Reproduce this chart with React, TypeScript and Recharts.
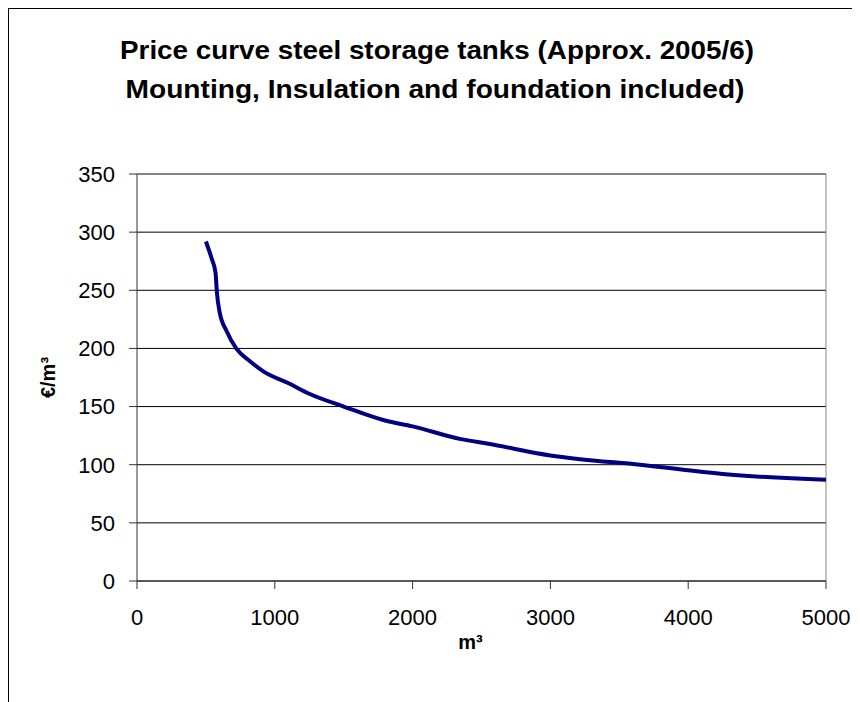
import { CartesianGrid, Label, Line, LineChart, ReferenceLine, XAxis, YAxis } from "recharts";

const volumes = [500, 540, 570, 580, 600, 650, 720, 820, 920, 1100, 1250, 1500, 1800, 2000, 2350, 2550, 3000, 3200, 3650, 4250, 5000];
const prices = [292, 278, 265, 248, 231, 215, 200, 189, 180, 170, 161, 150, 138, 133, 122, 118, 108, 105, 100, 92, 87];

const xTicks = [0, 1000, 2000, 3000, 4000, 5000];
const yTicks = [0, 50, 100, 150, 200, 250, 300, 350];

const titleLines = [
  "Price curve steel storage tanks (Approx. 2005/6)",
  "Mounting, Insulation and foundation included)",
];

const FONT = "'Liberation Sans', Arial, sans-serif";
const AXIS = "#333333";

const data = volumes.map((v, i) => ({ volume: v, price: prices[i] }));

export default function App() {
  return (
    <div
      style={{
        position: "relative",
        width: 848,
        height: 700,
        border: "1px solid #000",
        background: "#fff",
        fontFamily: FONT,
      }}
    >
      <svg width={848} height={110} style={{ position: "absolute", left: 0, top: 0 }}>
        <text x={428} y={50} textAnchor="middle" fontSize={26} fontWeight="bold" fontFamily={FONT} textLength={634} lengthAdjust="spacingAndGlyphs">
          {titleLines[0]}
        </text>
        <text x={426} y={89} textAnchor="middle" fontSize={26} fontWeight="bold" fontFamily={FONT} textLength={619} lengthAdjust="spacingAndGlyphs">
          {titleLines[1]}
        </text>
      </svg>
      <LineChart width={848} height={700} data={data} margin={{ top: 165, right: 31, bottom: 48, left: 68 }}>
        <CartesianGrid stroke="#000" vertical={false} />
        <XAxis
          dataKey="volume"
          type="number"
          domain={[0, 5000]}
          ticks={xTicks}
          height={80}
          tickSize={8}
          tickMargin={20}
          axisLine={{ stroke: AXIS }}
          tickLine={{ stroke: AXIS }}
          tick={{ fill: "#000", fontSize: 22, fontFamily: FONT }}
        >
          <Label value="m³" position="insideBottom" offset={12} dx={-11} fill="#000" fontSize={20} fontWeight="bold" fontFamily={FONT} />
        </XAxis>
        <YAxis
          type="number"
          domain={[0, 350]}
          ticks={yTicks}
          width={60}
          tickSize={8}
          tickMargin={14}
          axisLine={{ stroke: AXIS }}
          tickLine={{ stroke: AXIS }}
          tick={{ fill: "#000", fontSize: 22, fontFamily: FONT }}
        >
          <Label
            value="€/m³"
            angle={-90}
            position="insideLeft"
            offset={-29}
            style={{ textAnchor: "middle" }}
            fill="#000"
            fontSize={20}
            fontWeight="bold"
            fontFamily={FONT}
          />
        </YAxis>
        <ReferenceLine y={350} stroke="#888" />
        <ReferenceLine x={5000} stroke="#888" />
        <Line type="monotone" dataKey="price" stroke="#000080" strokeWidth={4} dot={false} isAnimationActive={false} />
      </LineChart>
    </div>
  );
}
